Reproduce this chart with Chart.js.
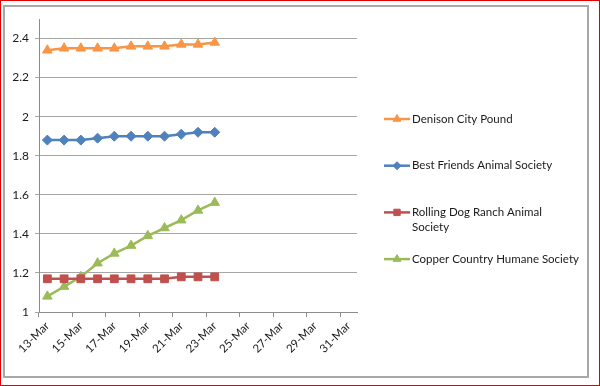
<!DOCTYPE html>
<html>
<head>
<meta charset="utf-8">
<script src="https://cdn.jsdelivr.net/npm/chart.js@4"></script>
<style>
  body { margin: 0; background: #fff; }
  #wrap { position: relative; width: 600px; height: 386px; box-sizing: border-box; border: 1px solid #e00000; }
  #frame { position: absolute; left: 2px; top: 4px; width: 586px; height: 373px; box-sizing: border-box; border: 2px solid #a8a8a8; }
  #myChart { position: absolute; left: -1px; top: -1px; }
</style>
</head>
<body>
<div id="wrap">
  <div id="frame"></div>
  <canvas id="myChart" width="600" height="386"></canvas>
</div>
<script>
// dates on the axis (one per day), only every second one gets a label
const dates = ['13-Mar', '14-Mar', '15-Mar', '16-Mar', '17-Mar', '18-Mar', '19-Mar', '20-Mar', '21-Mar', '22-Mar',
  '23-Mar', '24-Mar', '25-Mar', '26-Mar', '27-Mar', '28-Mar', '29-Mar', '30-Mar', '31-Mar'];
const yTicks = [1, 1.2, 1.4, 1.6, 1.8, 2, 2.2, 2.4];

const seriesNames = ['Denison City Pound', 'Best Friends Animal Society', 'Rolling Dog Ranch Animal Society', 'Copper Country Humane Society'];
const denison = [2.34, 2.35, 2.35, 2.35, 2.35, 2.36, 2.36, 2.36, 2.37, 2.37, 2.38];
const bestFriends = [1.88, 1.88, 1.88, 1.89, 1.90, 1.90, 1.90, 1.90, 1.91, 1.92, 1.92];
const rollingDog = [1.17, 1.17, 1.17, 1.17, 1.17, 1.17, 1.17, 1.17, 1.18, 1.18, 1.18];
const copper = [1.08, 1.13, 1.18, 1.25, 1.30, 1.34, 1.39, 1.43, 1.47, 1.52, 1.56];

const FONT = 'Lato, "Open Sans", sans-serif';

function series(name, data, color, style, radius) {
  return {
    label: name,
    data: data,
    borderColor: color,
    backgroundColor: color,
    borderWidth: 2.5,
    pointStyle: style,
    pointRadius: radius,
    pointHoverRadius: radius,
    pointBorderWidth: 1,
    tension: 0
  };
}

// legend drawn on the right like the excel one (with wrapping text)
const sideLegend = {
  id: 'sideLegend',
  afterDraw(chart) {
    const ctx = chart.ctx;
    ctx.save();
    ctx.font = '11.5px ' + FONT;
    ctx.textBaseline = 'middle';
    chart.data.datasets.forEach(function(ds, i) {
      const y = 119 + i * 46.7;
      ctx.strokeStyle = ds.borderColor;
      ctx.lineWidth = 2.5;
      ctx.beginPath();
      ctx.moveTo(384, y);
      ctx.lineTo(410, y);
      ctx.stroke();
      ctx.fillStyle = ds.borderColor;
      ctx.lineWidth = 1;
      Chart.helpers.drawPoint(ctx, {
        pointStyle: ds.pointStyle, radius: ds.pointRadius - 1, borderWidth: 1,
        rotation: 0
      }, 397, y);
      // wrap text
      ctx.fillStyle = '#1a1a1a';
      const words = ds.label.split(' ');
      let line = '';
      let ly = y;
      words.forEach(function(w) {
        const test = line ? line + ' ' + w : w;
        if (ctx.measureText(test).width > 168 && line) {
          ctx.fillText(line, 412, ly);
          line = w;
          ly += 15;
        } else {
          line = test;
        }
      });
      ctx.fillText(line, 412, ly);
    });
    ctx.restore();
  }
};

const myChart = new Chart(document.getElementById('myChart').getContext('2d'), {
  type: 'line',
  data: {
    labels: dates,
    datasets: [
      series(seriesNames[0], denison, '#F79646', 'triangle', 5.5),
      series(seriesNames[1], bestFriends, '#4F81BD', 'rectRot', 5),
      series(seriesNames[2], rollingDog, '#C0504D', 'rect', 5.5),
      series(seriesNames[3], copper, '#9BBB59', 'triangle', 5.5)
    ]
  },
  options: {
    responsive: false,
    animation: false,
    events: [],
    layout: { padding: { left: 0, top: 19, right: 243, bottom: 0 } },
    plugins: {
      legend: { display: false },
      tooltip: { enabled: false }
    },
    scales: {
      x: {
        offset: true,
        grid: {
          offset: true,
          drawOnChartArea: false,
          tickLength: 5,
          tickColor: function(c) { return c.index % 2 === 0 ? '#8c8c8c' : 'rgba(0,0,0,0)'; }
        },
        border: { color: '#8c8c8c', width: 1 },
        ticks: {
          autoSkip: false,
          minRotation: 45,
          maxRotation: 45,
          padding: 2,
          color: '#1a1a1a',
          font: { family: FONT, size: 11.5 },
          callback: function(v, i) { return i % 2 === 0 ? dates[i] : ''; }
        },
        afterFit: function(scale) { scale.height = 74; }
      },
      y: {
        min: 1,
        max: 2.5,
        grid: { color: '#a6a6a6', lineWidth: 1, tickLength: 4 },
        border: { color: '#8c8c8c', width: 1 },
        ticks: {
          padding: 6,
          color: '#1a1a1a',
          font: { family: FONT, size: 12 },
          callback: function(v) { return String(v); }
        },
        afterBuildTicks: function(scale) { scale.ticks = yTicks.map(function(v) { return { value: v }; }); },
        afterFit: function(scale) { scale.width = 39; }
      }
    }
  },
  plugins: [sideLegend]
});
</script>
</body>
</html>
